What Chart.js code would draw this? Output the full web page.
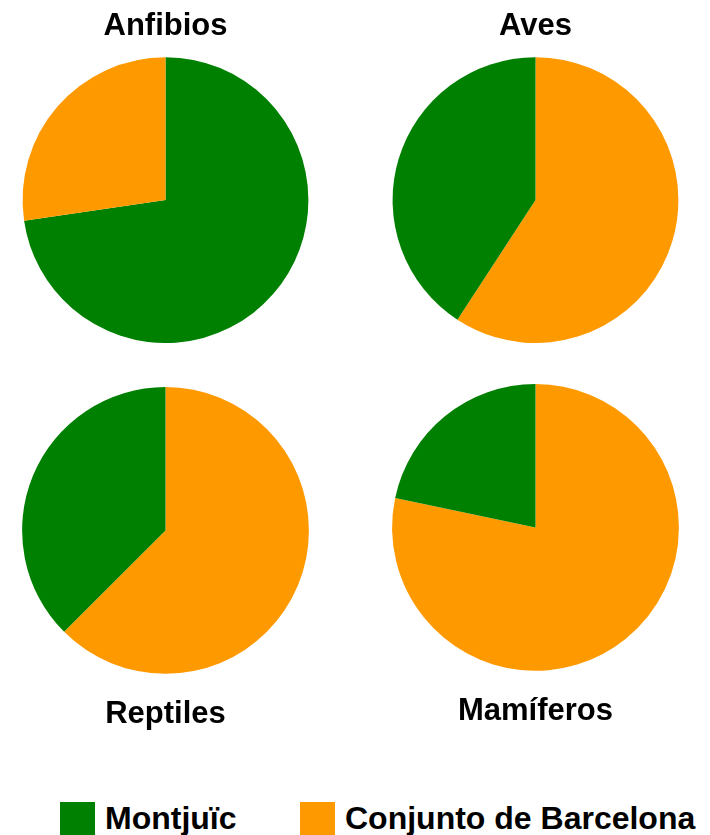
<!DOCTYPE html>
<html>
<head>
<meta charset="utf-8">
<script src="https://cdn.jsdelivr.net/npm/chart.js@4"></script>
<style>
  html, body { margin: 0; padding: 0; background: #fff; width: 710px; height: 835px; overflow: hidden; }
  .box { position: absolute; }
  #legend { position: absolute; left: 0; top: 802px; width: 710px; height: 40px; font-family: "Liberation Sans", Arial, sans-serif; font-weight: bold; font-size: 32px; color: #000; }
  .item { position: absolute; top: 0; height: 34px; line-height: 34px; white-space: nowrap; }
  .sw { position: absolute; top: 0; left: 0; width: 35px; height: 34px; }
  .lbl { position: absolute; top: -1px; left: 45px; }
</style>
</head>
<body>
<div class="box" style="left:0;top:0;"><canvas id="c0" width="331" height="343"></canvas></div>
<div class="box" style="left:370px;top:0;"><canvas id="c1" width="331" height="343"></canvas></div>
<div class="box" style="left:0;top:387px;"><canvas id="c2" width="331" height="360"></canvas></div>
<div class="box" style="left:370px;top:384px;"><canvas id="c3" width="331" height="360"></canvas></div>
<div id="legend">
  <div class="item" style="left:60px;"><div class="sw" style="background:#008000"></div><div class="lbl">Montjuïc</div></div>
  <div class="item" style="left:300px;"><div class="sw" style="background:#FF9900"></div><div class="lbl">Conjunto de Barcelona</div></div>
</div>
<script>
const groups = ["Anfibios", "Aves", "Reptiles", "Mamíferos"];
const seriesNames = ["Montjuïc", "Conjunto de Barcelona"];
const montjuic = [72.7, 40.8, 37.5, 21.7];
const barcelona = [27.3, 59.2, 62.5, 78.3];
const seriesColors = ["#008000", "#FF9900"];
const titlePos = ["top", "top", "bottom", "bottom"];

const FONT = '"Liberation Sans", Arial, sans-serif';

groups.forEach((g, i) => {
  const vals = [montjuic[i], barcelona[i]];
  // larger slice drawn first, clockwise from 12 o'clock
  const order = vals[0] >= vals[1] ? [0, 1] : [1, 0];
  const top = titlePos[i] === "top";
  new Chart(document.getElementById("c" + i), {
    type: "pie",
    data: {
      labels: order.map(k => seriesNames[k]),
      datasets: [{
        data: order.map(k => vals[k]),
        backgroundColor: order.map(k => seriesColors[k]),
        borderWidth: 0,
        hoverOffset: 0,
        offset: 0
      }]
    },
    options: {
      responsive: false,
      animation: false,
      devicePixelRatio: 1,
      layout: { padding: { left: 22, right: 22, top: 0, bottom: 0 } },
      plugins: {
        legend: { display: false },
        tooltip: { enabled: false },
        title: {
          display: true,
          text: g,
          position: titlePos[i],
          color: "#000",
          font: { family: FONT, size: 31, weight: "bold", lineHeight: 1.2 },
          padding: top ? { top: 8, bottom: 12 } : { top: 22, bottom: 14 }
        }
      }
    }
  });
});
</script>
</body>
</html>
